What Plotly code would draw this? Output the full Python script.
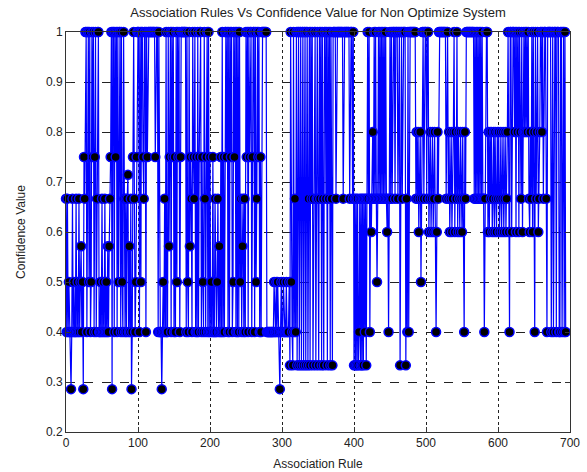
import plotly.graph_objects as go

# Confidence levels that appear in the chart, keyed by a one-letter code
level_codes = ["A", "B", "C", "D", "E", "F", "G", "H", "I", "J", "K"]
level_values = [1.0, 0.8, 0.75, 0.7143, 0.6667, 0.6, 0.5714, 0.5, 0.4, 0.3333, 0.2857]

# Confidence value of each association rule, 100 rules per block
block_0 = ("EIEIHIIKIE" "IHIIEIHIEI" "HGIHKCEAAI" "AAHAIHACAI" "CAIEAAIIHI"
           "EIHIEIHIGI" "GECAKAAIAC" "AIAHAAIAHI" "AEIEIEDIGI" "EKICAEIHCA")
block_1 = ("AAIAHAACEA" "AIACAAAAAA" "AAAACAAAIA" "IIIKIHIEIA" "IIAGCAIACA"
           "ICIAHACAIC" "AAAAAAAIAH" "IAGCEIACEA" "ICIAICAAIC" "HIAEICAIAI")
block_2 = ("CIHICIIEII" "HEIGICIAIC" "IAACAIAIAC" "AIHACAIAIA" "IAHEIGEIEI"
           "ACAIACAAIC" "AAIAHEACAI" "CIAAAAAAAI" "IIIIIIIIIH" "IIHIHIIKIH")
block_3 = ("IIHIIIHIII" "HJAHIJAIEI" "AJAAJAAJAA" "JAAJAAJEAJ" "AEAJEAAJEA"
           "EJAEAJAEJA" "AEAJAEAJAE" "JAAAAEAAAA" "AAAAAEAAAA" "AAAAEAAAEA")
block_4 = ("JEJEJEJIEJ" "EJEJEIEJEA" "EAIEFEBEAE" "AEHEAEAEAE" "AEAEAEFEIE"
           "AEAEAAAEAA" "AEAAJAAEAA" "AAJEIAIAAA" "AAAAAAEBEB" "FEBHEAAEAA")
block_5 = ("AEAAFEBFEB" "FEBFIFBEAA" "AAAAAAAAEA" "AEBFEBFEBA" "FBEAFBEFBE"
           "FBEIBEAAAA" "AAAAAAAEAE" "AEAEAEAEAE" "EIEAAAFBFB" "EBFEBFBEFB")
block_6 = ("EBFEBFEBFE" "BFEBAFIAAF" "AAABAFABAF" "ABEAFBABAB" "ABAEFBEAFA"
           "BIAEBAFEBA" "ABAEAAAEIA" "AAAAIAAIAA" "AIAAAIIAAI" "AAIAI")

x_ticks = [0, 100, 200, 300, 400, 500, 600, 700]
y_ticks = [0.2, 0.3, 0.4, 0.5, 0.6, 0.7, 0.8, 0.9, 1.0]
y_tick_labels = ["0.2", "0.3", "0.4", "0.5", "0.6", "0.7", "0.8", "0.9", "1"]

lookup = dict(zip(level_codes, level_values))
codes = block_0 + block_1 + block_2 + block_3 + block_4 + block_5 + block_6
confidence = [lookup[c] for c in codes]
rules = list(range(len(confidence)))

fig = go.Figure()
fig.add_trace(go.Scatter(
    x=rules, y=confidence, mode="lines+markers",
    line=dict(color="#0000ff", width=1.2),
    marker=dict(symbol="circle", size=9, color="black",
                line=dict(color="#0000ff", width=1.5)),
    showlegend=False, cliponaxis=False,
))

font = "Liberation Sans, Arial, sans-serif"
fig.update_layout(
    width=587, height=472,
    margin=dict(l=66, r=17, t=32, b=40),
    paper_bgcolor="white", plot_bgcolor="white",
    font=dict(family=font, size=12, color="#222222"),
    title=dict(text="Association Rules Vs Confidence Value for Non Optimize System",
               x=0.5, xref="paper", xanchor="center",
               y=1 - 12 / 472, yref="container", yanchor="middle",
               font=dict(family=font, size=13, color="#222222")),
)
fig.update_xaxes(
    range=[0, 700], tickvals=x_ticks, ticktext=[str(v) for v in x_ticks],
    ticks="inside", ticklen=5, tickcolor="#333333", automargin=False,
    showline=True, linecolor="#333333", linewidth=1, mirror="allticks",
    showgrid=True, gridcolor="#222222", gridwidth=1, griddash="dot",
    zeroline=False,
    title=dict(text="Association Rule", standoff=10, font=dict(size=12)),
)
fig.update_yaxes(
    range=[0.2, 1.0], tickvals=y_ticks, ticktext=y_tick_labels,
    ticks="inside", ticklen=5, tickcolor="#333333", automargin=False,
    showline=True, linecolor="#333333", linewidth=1, mirror="allticks",
    showgrid=True, gridcolor="#222222", gridwidth=1, griddash="dash",
    zeroline=False,
    title=dict(text="Confidence Value", standoff=17, font=dict(size=12)),
)

fig.write_html("out.html",
               config={"displayModeBar": False},
               post_script="document.body.style.margin='0';document.body.style.overflow='hidden';")
